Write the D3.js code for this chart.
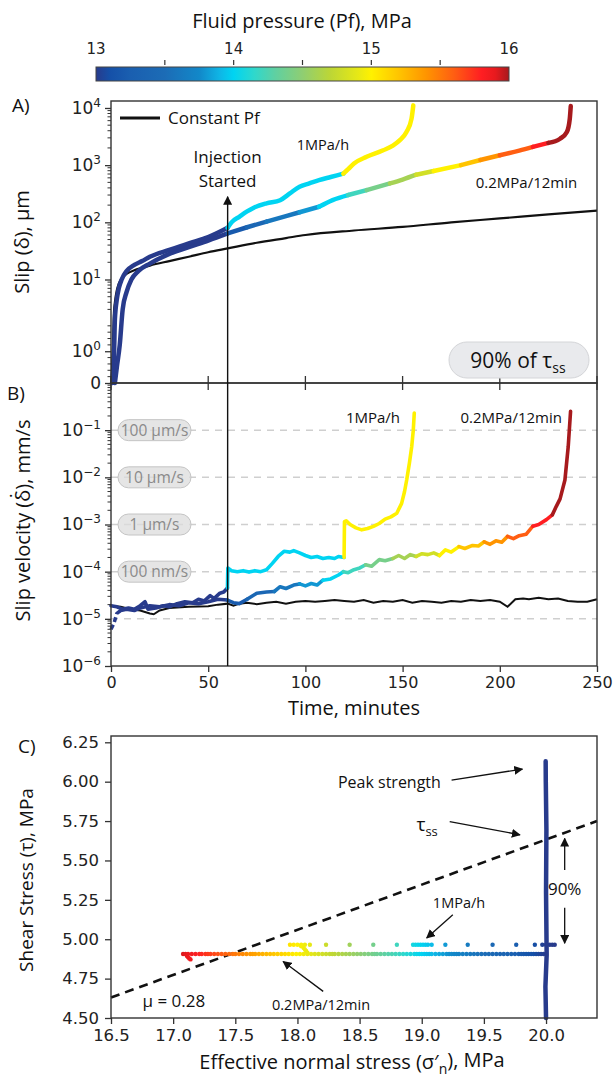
<!DOCTYPE html>
<html>
<head>
<meta charset="utf-8">
<script src="https://cdn.jsdelivr.net/npm/d3@7"></script>
<style>
  body { margin: 0; background: #fff; }
  svg { display: block; }
</style>
</head>
<body>
<div id="chart"></div>
<script>
// ---------- data ----------
// colour map for fluid pressure (MPa)
const pfStops  = [13, 13.1, 13.25, 13.5, 13.75, 13.9, 14, 14.15, 14.3, 14.5, 14.7, 14.9, 15, 15.2, 15.4, 15.6, 15.8, 15.9, 16];
const pfColors = ["#283b8c", "#1550a8", "#1a5fb0", "#1c6cb6", "#1288c9", "#0fb6e6", "#00d4f2", "#2fd8cc", "#5fd0a2",
                  "#8fce72", "#bcd636", "#e6e816", "#fff100", "#ffc400", "#ff9400", "#ff5e12", "#ff1e22", "#e81a1e", "#a71a1d"];
const cbLabels = [13, 14, 15, 16];
const cbTicks = [13.5, 14, 14.5, 15, 15.5];

// pressure steps [start minute, Pf]
const pfSteps1 = [[0, 13], [60, 14], [120, 15]];
const pfSteps2 = [[0, 13], [60, 13.2], [72, 13.4], [84, 13.6], [96, 13.8], [108, 14], [120, 14.2], [132, 14.4], [144, 14.6],
                  [156, 14.8], [168, 15], [180, 15.2], [192, 15.4], [204, 15.6], [216, 15.8], [228, 16]];
const pfConst = [[0, 13]];

// panel A: slip (um) vs time (min)
const slipConst = [[0, 0], [0.5, 0.4], [1, 1.2], [1.5, 2.6], [2, 4], [3, 6.5], [4, 8.5], [6, 11], [8, 12.5], [12, 14.5],
  [16, 16], [20, 17.5], [30, 21], [40, 25], [50, 30], [60, 35], [75, 44], [90, 53], [100, 60], [125, 72], [150, 83],
  [175, 100], [200, 117], [225, 138], [250, 160]];
const slip1 = [[0.8, 0], [1.2, 0.4], [1.6, 1], [2, 2], [3, 4.5], [4, 7], [5.5, 10], [8, 14], [12, 18], [16, 21], [20, 25],
  [30, 33], [40, 43], [50, 55], [60, 80], [62, 100], [66, 125], [70, 155], [73, 177], [80, 215], [87, 244], [92, 320],
  [97, 420], [102, 480], [107, 547], [113, 620], [119.5, 710], [122, 850], [125, 1070], [131.5, 1400], [140, 1820],
  [145, 2200], [148.6, 2740], [152, 3800], [154.6, 6500], [155.5, 11100]];
const slip2 = [[2, 0], [3, 0.5], [4.5, 1.2], [6, 3], [8, 6], [10.5, 10], [14, 14], [20, 19], [30, 28], [40, 37], [50, 48],
  [60, 64], [70, 82], [80, 103], [90, 128], [97, 150], [107, 187], [114, 245], [122, 300], [131.5, 366], [143.5, 479],
  [150, 560], [157, 680], [166, 790], [180, 1000], [190, 1230], [200, 1490], [210, 1800], [217, 2090], [225, 2450],
  [231, 2900], [234.5, 3800], [236, 6500], [236.5, 10800]];

// panel B: slip velocity (mm/s) vs time (min)
const velConst = [[0, 1.9e-5], [5, 1.8e-5], [10, 1.6e-5], [15, 1.5e-5], [20, 1.3e-5], [22, 1.25e-5], [25, 1.5e-5],
  [30, 1.7e-5], [40, 1.8e-5], [50, 1.85e-5], [55, 2e-5], [60, 2.1e-5], [63, 1.9e-5], [66, 2.1e-5], [70, 2.2e-5],
  [75, 2.05e-5], [80, 2.2e-5], [85, 2.3e-5], [90, 2.1e-5], [95, 2.3e-5], [100, 2.4e-5], [105, 2.3e-5], [110, 2.4e-5],
  [115, 2.5e-5], [120, 2.4e-5], [125, 2.3e-5], [130, 2.5e-5], [135, 2.2e-5], [140, 2.4e-5], [145, 2.3e-5], [150, 2.5e-5],
  [155, 2.2e-5], [160, 2.4e-5], [165, 2.3e-5], [170, 2.2e-5], [175, 2.4e-5], [180, 2.3e-5], [185, 2.5e-5], [190, 2.4e-5],
  [195, 2.5e-5], [200, 2.3e-5], [204, 1.8e-5], [208, 2.6e-5], [212, 2.7e-5], [215, 2.6e-5], [220, 2.8e-5], [225, 2.6e-5],
  [230, 2.7e-5], [235, 2.4e-5], [240, 2.3e-5], [245, 2.3e-5], [250, 2.6e-5]];
const vel1 = [[0, 1.9e-5], [3, 1.8e-5], [6, 1.6e-5], [9, 1.7e-5], [12, 1.6e-5], [15, 1.9e-5], [17.5, 2.3e-5], [19, 1.6e-5],
  [23, 1.7e-5], [27, 1.9e-5], [30, 1.8e-5], [34, 2.1e-5], [38, 2.3e-5], [42, 2.2e-5], [45, 2.6e-5], [48, 2.4e-5],
  [51, 3.1e-5], [53, 2.7e-5], [56, 3.5e-5], [58, 3.7e-5], [59.9, 4.5e-5], [60.1, 1.2e-4], [62, 1.05e-4], [65, 1.0e-4],
  [68, 1.05e-4], [71, 9.8e-5], [74, 1.05e-4], [77, 1.0e-4], [80, 1.1e-4], [83, 1.5e-4], [86, 2.1e-4], [89, 2.7e-4],
  [92, 2.6e-4], [94, 2.8e-4], [97, 2.5e-4], [100, 2.2e-4], [103, 2.0e-4], [106, 2.1e-4], [109, 1.9e-4], [112, 2.0e-4],
  [115, 1.9e-4], [117, 2.1e-4], [119.9, 2.0e-4], [120.1, 1.15e-3], [121, 1.2e-3], [123, 1.0e-3], [126, 8.5e-4],
  [129, 7.7e-4], [132, 8.2e-4], [135, 9.1e-4], [138, 1.05e-3], [141, 1.3e-3], [144, 1.45e-3], [147, 1.73e-3],
  [149.5, 2.8e-3], [151, 5e-3], [152.1, 8.8e-3], [153.5, 2e-2], [154.7, 4.5e-2], [155.5, 0.1], [156, 0.23]];
const vel2Start = [[0, 6e-6], [1.5, 8e-6], [3, 1.3e-5], [5, 1.5e-5]];
const vel2 = [[5, 1.5e-5], [8, 1.6e-5], [12, 1.5e-5], [15, 1.7e-5], [20, 1.9e-5], [25, 1.8e-5], [30, 2e-5], [35, 1.9e-5],
  [40, 2.2e-5], [45, 2.1e-5], [50, 2.3e-5], [55, 2.6e-5], [59.8, 2.5e-5], [63, 2.2e-5], [66, 2.1e-5], [70, 2.6e-5],
  [75, 3.5e-5], [80, 3.7e-5], [84, 3.8e-5], [87, 4.8e-5], [90, 4.4e-5], [94, 5.2e-5], [97, 5.5e-5], [100, 5.0e-5],
  [103, 5.6e-5], [106, 5.2e-5], [109, 6.6e-5], [113, 7.0e-5], [117, 8.5e-5], [119.5, 1.0e-4], [122, 9.5e-5],
  [125, 1.1e-4], [128, 1.2e-4], [131, 1.4e-4], [134, 1.3e-4], [138, 1.8e-4], [141, 1.7e-4], [145, 1.9e-4],
  [148, 2.2e-4], [151, 1.9e-4], [154, 2.3e-4], [157, 2.1e-4], [160, 2.4e-4], [163, 2.3e-4], [166, 2.5e-4],
  [169, 2.2e-4], [172, 2.9e-4], [175, 2.6e-4], [179, 3.4e-4], [182, 3.1e-4], [186, 3.6e-4], [189, 3.5e-4],
  [192, 4.3e-4], [195, 3.8e-4], [198, 4.5e-4], [201, 4.2e-4], [204, 5.6e-4], [207, 5.0e-4], [210, 5.8e-4],
  [213.5, 6.2e-4], [217, 9.2e-4], [220, 1.0e-3], [224, 1.27e-3], [227, 1.6e-3], [229, 2.4e-3], [231, 3.5e-3],
  [233.5, 8.8e-3], [235.2, 4.5e-2], [236.4, 0.25]];

const injectionTime = 60;
const injectionArrowTop = 280;   // um on the slip axis
const velRefValues = [1e-1, 1e-2, 1e-3, 1e-4];
const velRefLabels = ["100 \u00b5m/s", "10 \u00b5m/s", "1 \u00b5m/s", "100 nm/s"];
const velGrid = [1e-1, 1e-2, 1e-3, 1e-4, 1e-5];

// axis ticks
const timeTicks = [0, 50, 100, 150, 200, 250];
const slipTicks = [0, 1, 10, 100, 1000, 10000];
const slipTickExp = [null, "0", "1", "2", "3", "4"];
const velTicks = [1e-6, 1e-5, 1e-4, 1e-3, 1e-2, 1e-1];
const velTickExp = ["\u22126", "\u22125", "\u22124", "\u22123", "\u22122", "\u22121"];
const sigmaTicks = [16.5, 17, 17.5, 18, 18.5, 19, 19.5, 20];
const tauTicks = [4.5, 4.75, 5, 5.25, 5.5, 5.75, 6, 6.25];

// panel C: shear vs effective normal stress (MPa)
const sigmaTotal = 33;           // Pf = sigmaTotal - sigma'
const frictionLine = [[16.5, 4.63], [20.41, 5.75]];
const tauLow = 4.906;
const lowSigma = [17.08, 17.1, 17.12, 17.15, 17.18, 17.21, 17.23, 17.26, 17.28, 17.3, 17.33, 17.36, 17.39, 17.42, 17.45,
  17.48, 17.5, 17.53, 17.56, 17.59, 17.62, 17.64, 17.66, 17.69, 17.72, 17.75, 17.78, 17.81, 17.84, 17.87, 17.9, 17.93,
  17.96, 17.99, 18.02, 18.05, 18.08, 18.11, 18.14, 18.17, 18.2, 18.23, 18.26, 18.28, 18.3, 18.33, 18.36, 18.39, 18.42,
  18.45, 18.48, 18.51, 18.54, 18.57, 18.6, 18.62, 18.64, 18.67, 18.7, 18.73, 18.76, 18.79, 18.82, 18.85, 18.88, 18.91,
  18.94, 18.96, 18.98, 19.0, 19.02, 19.04, 19.06, 19.08, 19.11, 19.14, 19.17, 19.2, 19.22, 19.24, 19.26, 19.28, 19.3,
  19.33, 19.36, 19.39, 19.42, 19.45, 19.48, 19.51, 19.54, 19.57, 19.6, 19.63, 19.66, 19.69, 19.72, 19.75, 19.78, 19.8,
  19.82, 19.84, 19.86, 19.88, 19.9, 19.92, 19.94, 19.96, 19.98];
const lowHook = [[17.11, 4.895], [17.12, 4.885], [17.13, 4.878], [17.14, 4.872]];
const tauHigh = 4.965;
const highSigma = [17.94, 17.97, 18.0, 18.03, 18.06, 18.1, 18.23, 18.42, 18.61, 18.8, 18.93, 18.95, 18.97, 18.99, 19.01,
  19.03, 19.05, 19.08, 19.19, 19.37, 19.57, 19.76, 19.91, 19.97, 20.0, 20.03, 20.05, 20.07];
const highHook = [[18.03, 4.955], [18.05, 4.945], [18.06, 4.935], [18.07, 4.925], [18.08, 4.915]];
const peakColumn = [[20.0, 4.5], [19.995, 4.7], [20.005, 4.9], [20.0, 5.3], [20.003, 5.7], [19.998, 6.0], [19.997, 6.13]];

// ---------- helpers ----------
const FONT_AX = "DejaVu Sans";
const FONT_TXT = "'Open Sans', 'Noto Sans', sans-serif";
const pfColor = d3.scaleLinear().domain(pfStops).range(pfColors).clamp(true);
function pfAt(steps, t) {
  let v = steps[0][1];
  steps.forEach(s => { if (t >= s[0]) v = s[1]; });
  return v;
}
// split a series in runs of equal colour (colour by segment midpoint time)
function colourRuns(data, steps) {
  const out = [];
  let cur = null;
  d3.pairs(data).forEach(([a, b]) => {
    const c = pfColor(pfAt(steps, (a[0] + b[0]) / 2));
    if (!cur || cur.color !== c) { cur = { color: c, pts: [a] }; out.push(cur); }
    cur.pts.push(b);
  });
  return out;
}

const W = 615, H = 1082;
const svg = d3.select("#chart").append("svg").attr("width", W).attr("height", H)
  .style("font-family", FONT_TXT);

svg.append("defs").append("marker")
  .attr("id", "arr").attr("viewBox", "0 0 10 10").attr("refX", 9).attr("refY", 5)
  .attr("markerWidth", 9).attr("markerHeight", 9).attr("markerUnits", "userSpaceOnUse")
  .attr("orient", "auto-start-reverse")
  .append("path").attr("d", "M0,0 L10,5 L0,10 z").attr("fill", "#111");

const L = 111, R = 597;
const aTop = 101, aBot = 383, bTop = 383, bBot = 666, cTop = 736, cBot = 1018;
const axisColor = "#333";

function styleAxis(g, size) {
  g.selectAll(".domain").remove();
  g.selectAll(".tick line").attr("stroke", axisColor).attr("stroke-width", 1.3);
  g.selectAll(".tick text").attr("font-family", FONT_AX).attr("font-size", size || 16).attr("fill", "#222");
}
function expLabels(g, exps) {
  g.selectAll(".tick text").each(function (d, i) {
    const t = d3.select(this).text(null);
    if (exps[i] === null) { t.text("0"); return; }
    t.append("tspan").text("10");
    t.append("tspan").attr("dy", "-0.6em").attr("font-size", "12px").text(exps[i]);
  });
}

// ---------- colour bar ----------
const cbX = d3.scaleLinear().domain([13, 16]).range([96, 509]);
const grad = svg.select("defs").append("linearGradient").attr("id", "cbGrad")
  .attr("x1", "0%").attr("x2", "100%").attr("y1", "0%").attr("y2", "0%");
grad.selectAll("stop").data(pfStops).join("stop")
  .attr("offset", d => ((d - 13) / 3 * 100) + "%")
  .attr("stop-color", d => pfColor(d));
svg.append("rect").attr("x", cbX(13)).attr("y", 67).attr("width", cbX(16) - cbX(13)).attr("height", 14)
  .attr("fill", "url(#cbGrad)").attr("stroke", "#444").attr("stroke-width", 1);
svg.append("g").selectAll("line").data(cbTicks).join("line")
  .attr("x1", d => cbX(d)).attr("x2", d => cbX(d)).attr("y1", 60).attr("y2", 65)
  .attr("stroke", "#333").attr("stroke-width", 1.2);
svg.append("g").selectAll("text").data(cbLabels).join("text")
  .attr("x", d => cbX(d)).attr("y", 54).attr("text-anchor", "middle")
  .attr("font-family", FONT_AX).attr("font-size", 15).attr("fill", "#222").text(d => d);
svg.append("text").attr("x", 302).attr("y", 28).attr("text-anchor", "middle")
  .attr("font-size", 20).attr("fill", "#111").text("Fluid pressure (Pf), MPa");

// ---------- shared time scale ----------
const xT = d3.scaleLinear().domain([0, 250]).range([L, R]);

// ---------- panel A ----------
const LS = 1 / 0.9, LT = 2;  // symlog: linthresh 2, linscale 1
const symA = v => v <= LT ? v / LT * LS : LS + Math.log10(v / LT);
const yAt = d3.scaleLinear().domain([0, 4.932]).range([aBot, aTop]);
const yA = v => yAt(symA(v));

const gA = svg.append("g");
const lineA = d3.line().x(d => xT(d[0])).y(d => yA(d[1])).curve(d3.curveMonotoneX);

gA.append("path").attr("d", lineA(slipConst)).attr("fill", "none").attr("stroke", "#111").attr("stroke-width", 2.2);
[[slip2, pfSteps2], [slip1, pfSteps1]].forEach(([data, steps]) => {
  colourRuns(data, steps).forEach(r => {
    gA.append("path").attr("d", lineA(r.pts)).attr("fill", "none").attr("stroke", r.color)
      .attr("stroke-width", 4.5).attr("stroke-linecap", "round").attr("stroke-linejoin", "round");
  });
});

// A axes
const axA = gA.append("g").attr("transform", `translate(${L},0)`)
  .call(d3.axisLeft(yAt).tickValues(slipTicks.map(symA)).tickSize(6).tickPadding(4));
styleAxis(axA, 17);
expLabels(axA, slipTickExp);
const slipMinor = [];
[0.2, 0.4, 0.6, 0.8, 1.2, 1.4, 1.6, 1.8].forEach(v => slipMinor.push(v));
[0, 1, 2, 3].forEach(n => d3.range(2, 10).forEach(k => { if (k * 10 ** n > 2) slipMinor.push(k * 10 ** n); }));
gA.append("g").selectAll("line").data(slipMinor).join("line")
  .attr("x1", L - 3.5).attr("x2", L).attr("y1", d => yA(d)).attr("y2", d => yA(d))
  .attr("stroke", axisColor).attr("stroke-width", 1);
gA.append("g").selectAll("line").data(timeTicks).join("line")
  .attr("x1", d => xT(d)).attr("x2", d => xT(d)).attr("y1", aBot - 7).attr("y2", aBot + 7)
  .attr("stroke", axisColor).attr("stroke-width", 1.3);
gA.append("rect").attr("x", L).attr("y", aTop).attr("width", R - L).attr("height", aBot - aTop)
  .attr("fill", "none").attr("stroke", axisColor).attr("stroke-width", 1.4);

// legend
gA.append("line").attr("x1", 120).attr("x2", 160).attr("y1", 118).attr("y2", 118).attr("stroke", "#111").attr("stroke-width", 3);
gA.append("text").attr("x", 168).attr("y", 124).attr("font-size", 17).attr("fill", "#111").text("Constant Pf");

// annotations A
gA.append("text").attr("x", xT(109)).attr("y", yA(2223) + 5).attr("text-anchor", "middle")
  .attr("font-size", 14.5).attr("fill", "#111").text("1MPa/h");
gA.append("text").attr("x", xT(213.7)).attr("y", yA(486) + 5).attr("text-anchor", "middle")
  .attr("font-size", 15).attr("fill", "#111").text("0.2MPa/12min");
const injT = gA.append("text").attr("x", xT(injectionTime)).attr("text-anchor", "middle").attr("font-size", 17).attr("fill", "#111");
injT.append("tspan").attr("x", xT(injectionTime)).attr("y", 163).text("Injection");
injT.append("tspan").attr("x", xT(injectionTime)).attr("y", 187).text("Started");
gA.append("rect").attr("x", 449).attr("y", 342).attr("width", 140).attr("height", 36).attr("rx", 18)
  .attr("fill", "#e9eaed").attr("stroke", "#d4d5d8").attr("stroke-width", 1);
const tss = gA.append("text").attr("x", 518).attr("y", 368).attr("text-anchor", "middle").attr("font-size", 21).attr("fill", "#111");
tss.append("tspan").text("90% of \u03c4");
tss.append("tspan").attr("dy", "0.35em").attr("font-size", 14).text("ss");

svg.append("text").attr("x", 12).attr("y", 112).attr("font-size", 19).attr("fill", "#111").text("A)");
svg.append("text").attr("transform", `translate(29,${(aTop + aBot) / 2 + 0}) rotate(-90)`).attr("text-anchor", "middle")
  .attr("font-size", 20).attr("fill", "#111").text("Slip (\u03b4), \u00b5m");

// ---------- panel B ----------
const yB = d3.scaleLog().domain([1e-6, 1]).range([bBot, bTop]);
const gB = svg.append("g");
gB.append("g").selectAll("line").data(velGrid).join("line")
  .attr("x1", L).attr("x2", R).attr("y1", d => yB(d)).attr("y2", d => yB(d))
  .attr("stroke", "#cfcfcf").attr("stroke-width", 1.5).attr("stroke-dasharray", "7,6");
const refG = gB.append("g").selectAll("g").data(velRefValues).join("g")
  .attr("transform", d => `translate(${L + 7},${yB(d)})`);
refG.append("rect").attr("x", 0).attr("y", -10.5).attr("width", 73).attr("height", 21).attr("rx", 10.5)
  .attr("fill", "#dcdcdc").attr("fill-opacity", 0.75).attr("stroke", "#c4c4c4").attr("stroke-width", 1);
refG.append("text").attr("x", 36.5).attr("y", 5.5).attr("text-anchor", "middle").attr("font-size", 15.5)
  .attr("fill", "#8a8a8a").text((d, i) => velRefLabels[i]);

const lineB = d3.line().x(d => xT(d[0])).y(d => yB(d[1]));
gB.append("path").attr("d", lineB(velConst)).attr("fill", "none").attr("stroke", "#111").attr("stroke-width", 2);
gB.append("path").attr("d", lineB(vel2Start)).attr("fill", "none").attr("stroke", pfColor(13))
  .attr("stroke-width", 3.5).attr("stroke-dasharray", "5,3");
[[vel2, pfSteps2], [vel1, pfSteps1]].forEach(([data, steps]) => {
  colourRuns(data, steps).forEach(r => {
    gB.append("path").attr("d", lineB(r.pts)).attr("fill", "none").attr("stroke", r.color)
      .attr("stroke-width", 3.6).attr("stroke-linecap", "round").attr("stroke-linejoin", "round");
  });
});

// injection marker spanning A and B
svg.append("line").attr("x1", xT(injectionTime)).attr("x2", xT(injectionTime))
  .attr("y1", yA(injectionArrowTop)).attr("y2", bBot)
  .attr("stroke", "#111").attr("stroke-width", 1.4).attr("marker-start", "url(#arr)");

const axB = gB.append("g").attr("transform", `translate(${L},0)`)
  .call(d3.axisLeft(yB).tickValues(velTicks).tickSize(6).tickPadding(4));
styleAxis(axB, 17);
expLabels(axB, velTickExp);
const velMinor = [];
[-6, -5, -4, -3, -2, -1].forEach(n => d3.range(2, 10).forEach(k => velMinor.push(k * 10 ** n)));
gB.append("g").selectAll("line").data(velMinor).join("line")
  .attr("x1", L - 3.5).attr("x2", L).attr("y1", d => yB(d)).attr("y2", d => yB(d))
  .attr("stroke", axisColor).attr("stroke-width", 1);
const axBx = gB.append("g").attr("transform", `translate(0,${bBot})`)
  .call(d3.axisBottom(xT).tickValues(timeTicks).tickSize(6).tickPadding(5));
styleAxis(axBx, 16);
gB.append("rect").attr("x", L).attr("y", bTop).attr("width", R - L).attr("height", bBot - bTop)
  .attr("fill", "none").attr("stroke", axisColor).attr("stroke-width", 1.4);

gB.append("text").attr("x", xT(148.7)).attr("y", yB(0.18) + 5).attr("text-anchor", "end")
  .attr("font-size", 15).attr("fill", "#111").text("1MPa/h");
gB.append("text").attr("x", xT(232)).attr("y", yB(0.18) + 5).attr("text-anchor", "end")
  .attr("font-size", 15).attr("fill", "#111").text("0.2MPa/12min");
svg.append("text").attr("x", 7).attr("y", 400).attr("font-size", 19).attr("fill", "#111").text("B)");
svg.append("text").attr("transform", `translate(30,${(bTop + bBot) / 2 - 4}) rotate(-90)`).attr("text-anchor", "middle")
  .attr("font-size", 20).attr("fill", "#111").text("Slip velocity (\u03b4\u0307), mm/s");
svg.append("text").attr("x", 354).attr("y", 715).attr("text-anchor", "middle")
  .attr("font-size", 20).attr("fill", "#111").text("Time, minutes");

// ---------- panel C ----------
const xC = d3.scaleLinear().domain([16.5, 20.41]).range([L, R]);
const yC = d3.scaleLinear().domain([4.5, 6.29]).range([cBot, cTop]);
const gC = svg.append("g");
gC.append("path").attr("d", d3.line().x(d => xC(d[0])).y(d => yC(d[1]))(frictionLine))
  .attr("fill", "none").attr("stroke", "#111").attr("stroke-width", 2.6).attr("stroke-dasharray", "9,6");

const dotC = d => pfColor(sigmaTotal - d[0]);
const lowPts = lowSigma.map(s => [s, tauLow]).concat(lowHook);
const highPts = highSigma.map(s => [s, tauHigh]).concat(highHook);
gC.append("g").selectAll("circle").data(lowPts.concat(highPts)).join("circle")
  .attr("cx", d => xC(d[0])).attr("cy", d => yC(d[1])).attr("r", 2.2).attr("fill", dotC);
gC.append("path").attr("d", d3.line().x(d => xC(d[0])).y(d => yC(d[1]))(peakColumn))
  .attr("fill", "none").attr("stroke", pfColor(13)).attr("stroke-width", 4.5).attr("stroke-linecap", "round");

const axCy = gC.append("g").attr("transform", `translate(${L},0)`)
  .call(d3.axisLeft(yC).tickValues(tauTicks).tickFormat(d3.format(".2f")).tickSize(6).tickPadding(6));
styleAxis(axCy, 16.5);
const axCx = gC.append("g").attr("transform", `translate(0,${cBot})`)
  .call(d3.axisBottom(xC).tickValues(sigmaTicks).tickFormat(d3.format(".1f")).tickSize(6).tickPadding(5));
styleAxis(axCx, 16.5);
gC.append("rect").attr("x", L).attr("y", cTop).attr("width", R - L).attr("height", cBot - cTop)
  .attr("fill", "none").attr("stroke", axisColor).attr("stroke-width", 1.4);

// annotations C
function arrowC(x1, y1, x2, y2, both) {
  const l = gC.append("line").attr("x1", xC(x1)).attr("y1", yC(y1)).attr("x2", xC(x2)).attr("y2", yC(y2))
    .attr("stroke", "#111").attr("stroke-width", both ? 2.2 : 1.3).attr("marker-end", "url(#arr)");
  if (both) l.attr("marker-start", "url(#arr)");
}
gC.append("text").attr("x", xC(18.74)).attr("y", yC(6.0) + 6).attr("text-anchor", "middle")
  .attr("font-size", 16).attr("fill", "#111").text("Peak strength");
arrowC(19.24, 6.01, 19.81, 6.08);
const tssC = gC.append("text").attr("x", xC(18.957)).attr("y", yC(5.716) + 5).attr("font-size", 19).attr("fill", "#111");
tssC.append("tspan").text("\u03c4");
tssC.append("tspan").attr("dy", "0.35em").attr("font-size", 13).text("ss");
arrowC(19.225, 5.747, 19.79, 5.663);
arrowC(20.15, 5.44, 20.15, 5.64, false);
arrowC(20.15, 5.2, 20.15, 4.975, false);
gC.append("line").attr("x1", xC(20.15)).attr("x2", xC(20.15)).attr("y1", yC(5.2)).attr("y2", yC(5.44))
  .attr("stroke", "#fff").attr("stroke-width", 0);
gC.append("text").attr("x", xC(20.15)).attr("y", yC(5.32) + 6).attr("text-anchor", "middle")
  .attr("font-size", 17).attr("fill", "#111").text("90%");
gC.append("text").attr("x", xC(19.3)).attr("y", yC(5.23) + 5).attr("text-anchor", "middle")
  .attr("font-size", 14.5).attr("fill", "#111").text("1MPa/h");
arrowC(19.25, 5.155, 19.04, 5.008);
gC.append("text").attr("x", xC(18.19)).attr("y", yC(4.584) + 5).attr("text-anchor", "middle")
  .attr("font-size", 14.5).attr("fill", "#111").text("0.2MPa/12min");
arrowC(18.207, 4.669, 17.885, 4.859);
gC.append("text").attr("x", xC(17.006)).attr("y", yC(4.605) + 6).attr("text-anchor", "middle")
  .attr("font-size", 17).attr("fill", "#111").text("\u03bc = 0.28");

svg.append("text").attr("x", 18).attr("y", 753).attr("font-size", 19).attr("fill", "#111").text("C)");
svg.append("text").attr("transform", `translate(33,880) rotate(-90)`).attr("text-anchor", "middle")
  .attr("font-size", 19).attr("fill", "#111").text("Shear Stress (\u03c4), MPa");
const xlab = svg.append("text").attr("x", 352).attr("y", 1069).attr("text-anchor", "middle")
  .attr("font-size", 20).attr("fill", "#111");
xlab.append("tspan").text("Effective normal stress (\u03c3\u2032");
xlab.append("tspan").attr("dy", "0.35em").attr("font-size", 14).text("n");
xlab.append("tspan").attr("dy", "-0.35em").text("), MPa");
</script>
</body>
</html>
